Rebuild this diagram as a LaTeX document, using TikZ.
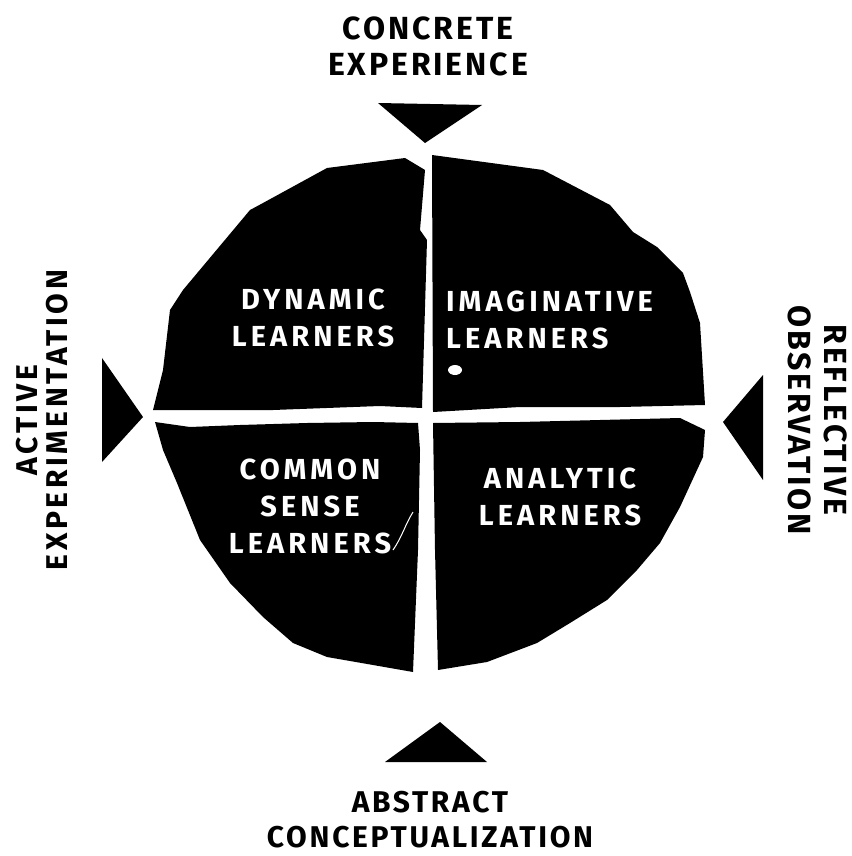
\documentclass[tikz,border=0pt]{standalone}
\usepackage{fontspec}
\setmainfont{Fira Sans}
\usetikzlibrary{positioning}

\begin{document}
\begin{tikzpicture}
    [x=1pt, y=-1pt,
     quad/.style = {fill=black},
     tri/.style = {fill=black},
     inner/.style = {text=white, font=\bfseries\fontsize{29}{37}\selectfont\addfontfeature{LetterSpace=14}, inner sep=0pt},
     outer/.style = {font=\bfseries\fontsize{32}{36}\selectfont\addfontfeature{LetterSpace=9}, align=center, inner sep=0pt}]
\useasboundingbox (0,0) rectangle (851,856);

\fill[quad] (153,410) -- (163,370) -- (170,310) -- (183,290) -- (250,210) -- (263,203) -- (327,168)
    -- (405,158) -- (425,170) -- (420,230) -- (427,240) -- (422,408) -- (380,406) -- (273,410) -- cycle;
\fill[quad] (432,155) -- (543,170) -- (610,205) -- (633,232) -- (657,247) -- (683,273) -- (690,292)
    -- (700,323) -- (705,405) -- (620,407) -- (520,407) -- (433,412) -- cycle;
\fill[quad] (155,422) -- (190,427) -- (240,425) -- (307,423) -- (373,422) -- (418,423) -- (420,450)
    -- (418,550) -- (413,672) -- (373,665) -- (327,657) -- (293,643) -- (263,617) -- (230,583)
    -- (200,540) -- (177,483) -- (163,450) -- cycle;
\fill[quad] (433,423) -- (520,422) -- (680,418) -- (705,430) -- (703,457) -- (680,507) -- (660,543)
    -- (637,570) -- (607,600) -- (570,623) -- (537,643) -- (487,662) -- (438,670) -- (435,550) -- cycle;

\fill[white] (455,370) ellipse (7 and 5);
\draw[white, line width=1pt] (413,512) .. controls (405,525) and (402,537) .. (393,550);

\node[inner, align=center] (dyn) at (313,318) {DYNAMIC\\LEARNERS};
\node[inner, align=left, anchor=west] (ima) at (446,320) {IMAGINATIVE\\LEARNERS};
\node[inner, align=center] (com) at (310,506) {COMMON\\SENSE\\LEARNERS};
\node[inner, align=center] (ana) at (560,497) {ANALYTIC\\LEARNERS};

\fill[tri] (378,103) -- (482,105) -- (425,143) -- cycle;
\fill[tri] (440,722) -- (385,762) -- (487,762) -- cycle;
\fill[tri] (102,358) -- (143,417) -- (102,462) -- cycle;
\fill[tri] (763,375) -- (723,422) -- (763,480) -- cycle;

\node[outer] (ce) at (428,46) {CONCRETE\\EXPERIENCE};
\node[outer, font=\bfseries\fontsize{30}{35}\selectfont\addfontfeature{LetterSpace=9}] (ac) at (430,820) {ABSTRACT\\CONCEPTUALIZATION};
\node[outer, rotate=90, font=\bfseries\fontsize{30}{30}\selectfont\addfontfeature{LetterSpace=12}] (ae) at (42,420) {ACTIVE\\EXPERIMENTATION};
\node[outer, rotate=-90] (ro) at (818,420) {REFLECTIVE\\OBSERVATION};
\end{tikzpicture}
\end{document}
